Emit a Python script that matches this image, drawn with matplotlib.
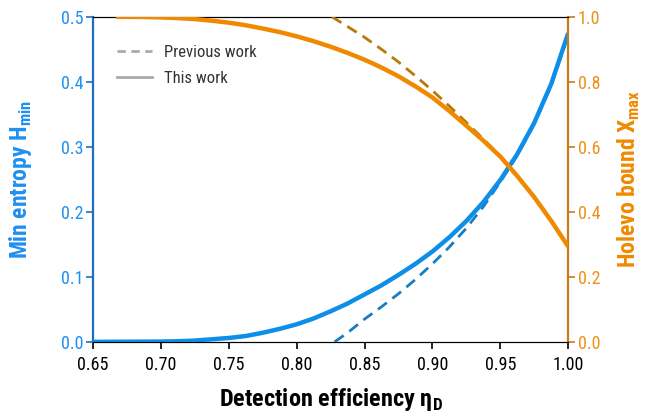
import matplotlib
matplotlib.use("Agg")
import matplotlib.pyplot as plt
from matplotlib import font_manager as fm
from matplotlib.lines import Line2D

names = {f.name for f in fm.fontManager.ttflist}
for cand in ["Liberation Sans Narrow", "Roboto Condensed", "Open Sans Condensed", "Roboto", "DejaVu Sans"]:
    if cand in names:
        FONT = cand
        break
plt.rcParams['font.family'] = [FONT, 'DejaVu Sans']
plt.rcParams['mathtext.fontset'] = 'custom'
plt.rcParams['mathtext.rm'] = FONT

# Min entropy, this work (left axis)
hmin_x = [0.65, 0.70, 0.7125, 0.725, 0.7375, 0.75, 0.7625, 0.775, 0.7875, 0.80, 0.8125, 0.825, 0.8375,
          0.85, 0.8625, 0.875, 0.8875, 0.90, 0.9125, 0.925, 0.9375, 0.95, 0.9625, 0.975, 0.9875, 1.0]
hmin_y = [0.0, 0.0005, 0.001, 0.002, 0.004, 0.006, 0.009, 0.014, 0.020, 0.027, 0.036, 0.047, 0.059,
          0.073, 0.087, 0.103, 0.120, 0.139, 0.161, 0.186, 0.215, 0.249, 0.289, 0.337, 0.397, 0.475]
# Min entropy, previous work
hmin_prev_x = [0.828, 0.8375, 0.85, 0.8625, 0.875, 0.8875, 0.90, 0.9125, 0.925, 0.9375, 0.95,
               0.9625, 0.975, 0.9875, 1.0]
hmin_prev_y = [0.0, 0.014, 0.035, 0.054, 0.074, 0.096, 0.120, 0.146, 0.175, 0.208, 0.246,
               0.287, 0.335, 0.395, 0.472]
# Holevo bound, this work (right axis)
chi_x = [0.667, 0.6875, 0.70, 0.7125, 0.725, 0.7375, 0.75, 0.7625, 0.775, 0.7875, 0.80, 0.8125, 0.825,
         0.8375, 0.85, 0.8625, 0.875, 0.8875, 0.90, 0.9125, 0.925, 0.9375, 0.95, 0.9625, 0.975, 0.9875, 1.0]
chi_y = [1.0, 0.9995, 0.998, 0.996, 0.993, 0.988, 0.982, 0.974, 0.964, 0.953, 0.940, 0.925, 0.908,
         0.889, 0.868, 0.844, 0.817, 0.786, 0.752, 0.710, 0.665, 0.619, 0.570, 0.510, 0.445, 0.372, 0.293]
# Holevo bound, previous work
chi_prev_x = [0.826, 0.8375, 0.85, 0.8625, 0.875, 0.8875, 0.90, 0.9125, 0.925, 0.9375, 0.95,
              0.9625, 0.975, 0.9875, 1.0]
chi_prev_y = [1.0, 0.970, 0.937, 0.900, 0.861, 0.818, 0.773, 0.725, 0.675, 0.624, 0.571,
              0.510, 0.445, 0.372, 0.293]

xticks = [0.65, 0.70, 0.75, 0.80, 0.85, 0.90, 0.95, 1.00]
lticks = [0.0, 0.1, 0.2, 0.3, 0.4, 0.5]
rticks = [0.0, 0.2, 0.4, 0.6, 0.8, 1.0]

BLUE = '#0d8ee9'
BLUE_D = '#1a7cc2'
BLUE_SP = '#1f6fbf'
BLUE_TXT = '#1e90f0'
ORANGE = '#ef8a00'
ORANGE_D = '#b57a08'
ORANGE_SP = '#c97a1a'
ORANGE_TXT = '#f0901a'

fig = plt.figure(figsize=(6.45, 4.2), dpi=100)
ax = fig.add_axes([0.144, 0.186, 0.737, 0.774])
ax2 = ax.twinx()

ax.plot(hmin_prev_x, hmin_prev_y, color=BLUE_D, lw=2, ls=(0, (4, 2.5)), zorder=3)
ax.plot(hmin_x, hmin_y, color=BLUE, lw=3.2, zorder=4, solid_capstyle='butt')
ax2.plot(chi_prev_x, chi_prev_y, color=ORANGE_D, lw=2, ls=(0, (4, 2.5)), zorder=3)
ax2.plot(chi_x, chi_y, color=ORANGE, lw=3.2, zorder=4, solid_capstyle='butt')

ax.set_xlim(0.65, 1.00)
ax.set_ylim(0, 0.5)
ax2.set_ylim(0, 1.0)
ax.set_xticks(xticks)
ax.set_xticklabels([f"{v:.2f}" for v in xticks])
ax.set_yticks(lticks)
ax.set_yticklabels([f"{v:.1f}" for v in lticks])
ax2.set_yticks(rticks)
ax2.set_yticklabels([f"{v:.1f}" for v in rticks])

for a in (ax, ax2):
    a.spines['top'].set_color('black')
    a.spines['bottom'].set_color('black')
ax.spines['left'].set_color(BLUE_SP)
ax.spines['left'].set_linewidth(1.6)
ax2.spines['right'].set_color(ORANGE_SP)
ax2.spines['right'].set_linewidth(1.6)
ax2.spines['left'].set_visible(False)
ax.spines['right'].set_visible(False)

ax.tick_params(axis='x', labelsize=13, colors='black', length=5, width=1.2, pad=5)
ax.tick_params(axis='y', labelsize=13, colors=BLUE_SP, labelcolor=BLUE_TXT, length=5, width=1.2, pad=2)
ax2.tick_params(axis='y', labelsize=13, colors=ORANGE_SP, labelcolor=ORANGE_TXT, length=5, width=1.2, pad=2)

ax.set_xlabel("Detection efficiency η$_\\mathregular{D}$", fontsize=17.5, fontweight='bold', labelpad=9)
ax.set_ylabel("Min entropy H$_\\mathregular{min}$", fontsize=17, fontweight='bold', color=BLUE_TXT, labelpad=19)
ax2.set_ylabel("Holevo bound X$_\\mathregular{max}$", fontsize=17, fontweight='bold', color=ORANGE, labelpad=11)

handles = [Line2D([], [], color='#aaaaaa', lw=2, ls=(0, (3, 2))),
           Line2D([], [], color='#aaaaaa', lw=2)]
leg = ax.legend(handles, ["Previous work", "This work"], loc='upper left',
                bbox_to_anchor=(0.02, 0.96), frameon=False, fontsize=12,
                handlelength=2.1, handletextpad=0.7, labelspacing=0.65)
for t in leg.get_texts():
    t.set_color('#333333')

fig.savefig("out.png", dpi=100)
